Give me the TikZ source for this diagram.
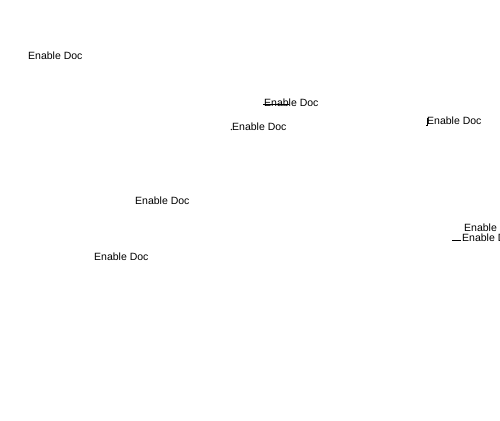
\documentclass[tikz,border=0pt]{standalone}
\usepackage{fontspec}
\setmainfont{Liberation Sans}
\begin{document}
\begin{tikzpicture}[x=1pt,y=-1pt,
  lbl/.style={anchor=west,inner sep=0pt,font=\fontsize{10.5}{12}\selectfont,text=black},
  link/.style={draw=black,line width=0.8pt}]
\useasboundingbox[fill=white] (0,0) rectangle (500,420);
\node[lbl] (n1) at (28,56) {Enable Doc};
\node[lbl] (n2) at (264,103) {Enable Doc};
\node[lbl] (n3) at (232,127) {Enable Doc};
\node[lbl] (n4) at (427,121) {Enable Doc};
\node[lbl] (n5) at (135,201) {Enable Doc};
\node[lbl] (n6) at (94,257) {Enable Doc};
\node[lbl] (n7) at (464,228) {Enable Doc};
\node[lbl] (n8) at (462,238) {Enable Doc};
\coordinate (a1) at (263,104);
\coordinate (a2) at (289,104);
\coordinate (b1) at (231,129);
\coordinate (b2) at (231.8,130);
\coordinate (c1) at (427,118);
\coordinate (c2) at (427,125);
\coordinate (c3) at (425.5,125);
\coordinate (d1) at (452,240);
\coordinate (d2) at (461,240);
\draw[link] (a1) -- (a2);
\draw[link] (b1) -- (b2);
\draw[link] (c1) -- (c2) -- (c3);
\draw[link] (d1) -- (d2);
\end{tikzpicture}
\end{document}
